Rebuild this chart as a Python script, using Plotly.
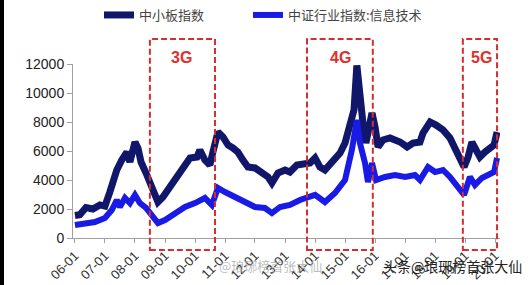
import plotly.graph_objects as go

# ---- data ----
sme_name = "中小板指数"
sme_dates = ["2006-01-01", "2006-03-01", "2006-05-15", "2006-08-07", "2006-11-01", "2007-01-01",
             "2007-03-01", "2007-05-25", "2007-07-25", "2007-09-25", "2007-11-01", "2008-01-01",
             "2008-02-07", "2008-03-15", "2008-05-15", "2008-07-01", "2008-09-01", "2008-10-07",
             "2008-12-07", "2009-03-01", "2009-05-01", "2009-08-07", "2009-11-01", "2010-01-25",
             "2010-03-01", "2010-05-01", "2010-07-01", "2010-08-07", "2010-10-07", "2010-12-07",
             "2011-02-07", "2011-04-07", "2011-06-07", "2011-08-07", "2011-10-07", "2012-01-01",
             "2012-03-25", "2012-06-07", "2012-07-25", "2012-10-07", "2013-01-01", "2013-03-01",
             "2013-05-25", "2013-09-01", "2013-11-01", "2014-01-01", "2014-03-01", "2014-05-01",
             "2014-07-01", "2014-09-01", "2014-11-01", "2015-01-01", "2015-03-01", "2015-04-20",
             "2015-05-25", "2015-07-01", "2015-08-07", "2015-09-12", "2015-10-20", "2015-11-25",
             "2016-01-01", "2016-02-07", "2016-04-07", "2016-07-01", "2016-11-01", "2017-01-25",
             "2017-04-07", "2017-07-01", "2017-08-07", "2017-11-01", "2018-01-13", "2018-04-07",
             "2018-07-01", "2018-09-01", "2018-11-01", "2018-12-20", "2019-02-07", "2019-03-25",
             "2019-05-15", "2019-07-01", "2019-09-01", "2019-11-01", "2019-12-20", "2020-01-25"]
sme_values = [1550, 1600, 2100, 2000, 2280, 2200,
              3170, 4690, 5380, 5930, 5240, 6620,
              6200, 5240, 4480, 3860, 3100, 2480,
              2830, 3520, 4000, 4690, 5520, 5590,
              6070, 5380, 5030, 5930, 7310, 6970,
              6410, 6210, 5930, 5380, 4900, 4830,
              4550, 4210, 3790, 4480, 4690, 4550,
              5030, 5100, 5170, 5520, 4900, 4690,
              5030, 5380, 5860, 6550, 7930, 8830,
              11900, 9310, 7930, 6550, 7450, 8620,
              7660, 6280, 6760, 6900, 6620, 6280,
              6550, 6620, 7240, 8000, 7790, 7450,
              6900, 6210, 5520, 4900, 5590, 6620,
              6070, 5590, 5930, 6210, 6410, 7310]

it_name = "中证行业指数:信息技术"
it_dates = ["2006-01-01", "2006-05-01", "2006-09-01", "2007-01-01", "2007-03-25", "2007-05-25",
            "2007-07-01", "2007-09-01", "2007-11-01", "2008-01-01", "2008-03-01", "2008-05-15",
            "2008-07-25", "2008-10-07", "2009-01-01", "2009-03-25", "2009-09-01", "2010-01-01",
            "2010-05-01", "2010-07-25", "2010-10-07", "2011-01-01", "2011-05-01", "2011-09-01",
            "2012-01-01", "2012-05-01", "2012-07-25", "2012-11-01", "2013-03-01", "2013-07-01",
            "2013-10-15", "2014-01-01", "2014-05-01", "2014-09-01", "2015-01-01", "2015-03-25",
            "2015-05-25", "2015-07-01", "2015-09-01", "2015-10-07", "2015-11-25", "2016-01-13",
            "2016-05-01", "2016-09-01", "2017-01-01", "2017-05-01", "2017-07-01", "2017-10-07",
            "2018-01-01", "2018-04-07", "2018-07-01", "2018-10-07", "2018-12-20", "2019-03-01",
            "2019-05-01", "2019-07-25", "2019-11-01", "2019-12-20", "2020-01-25"]
it_values = [900, 1030, 1100, 1380, 1930, 2620,
             2140, 2760, 2410, 2970, 2410, 2070,
             1590, 1030, 1240, 1590, 2140, 2410,
             2760, 2280, 3450, 3170, 2830, 2410,
             2140, 2070, 1720, 2140, 2280, 2620,
             2830, 2970, 2480, 3100, 4000, 6070,
             8140, 6550, 5170, 3860, 5170, 4000,
             4210, 4340, 4210, 4340, 4000, 4900,
             4550, 4690, 4210, 3520, 2970, 4210,
             3660, 4140, 4480, 4550, 5520]

# periods marked on the chart
period_labels = ["3G", "4G", "5G"]
period_starts = ["2008-07-01", "2013-09-25", "2018-12-05"]
period_ends = ["2010-09-01", "2015-12-05", "2020-01-25"]
period_label_x = ["2009-07-25", "2014-11-01", "2019-07-25"]

y_ticks = [0, 2000, 4000, 6000, 8000, 10000, 12000]

# ---- figure ----
W, H = 531, 285
ML, MR, MT, MB = 73, 31, 64, 47
PW, PH = W - ML - MR, H - MT - MB


def px_to_paper_x(px):
    return (px - ML) / PW


def px_to_paper_y(py):
    return (H - MB - py) / PH


fig = go.Figure()
fig.add_trace(go.Scatter(x=sme_dates, y=sme_values, name=sme_name, mode="lines",
                         line=dict(color="#10176b", width=7), legend="legend"))
fig.add_trace(go.Scatter(x=it_dates, y=it_values, name=it_name, mode="lines",
                         line=dict(color="#1a1ae6", width=6), legend="legend2"))

red = "#d42f2f"
shapes = []
for s, e in zip(period_starts, period_ends):
    shapes.append(dict(type="rect", xref="x", yref="paper", x0=s, x1=e,
                       y0=px_to_paper_y(250), y1=px_to_paper_y(39),
                       line=dict(color=red, width=2, dash="6px,3px"),
                       fillcolor="rgba(0,0,0,0)", layer="above"))
# black strip at the left edge of the picture
shapes.append(dict(type="rect", xref="paper", yref="paper",
                   x0=px_to_paper_x(0), x1=px_to_paper_x(4),
                   y0=px_to_paper_y(H), y1=px_to_paper_y(0),
                   line=dict(width=0), fillcolor="black", layer="above"))

annotations = []
for lab, lx in zip(period_labels, period_label_x):
    annotations.append(dict(text="<b>%s</b>" % lab, x=lx, xref="x", y=px_to_paper_y(58), yref="paper",
                            xanchor="center", yanchor="middle",
                            showarrow=False, font=dict(family="Arial", size=16, color="#e0302a")))
# watermarks
annotations.append(dict(text="@琅琊榜首张大仙", x=px_to_paper_x(270), y=px_to_paper_y(265),
                        xref="paper", yref="paper", xanchor="center", yanchor="middle", showarrow=False,
                        font=dict(family="Noto Sans CJK SC", size=13, color="rgba(160,160,160,0.7)")))
annotations.append(dict(text="头条@琅琊榜首张大仙", x=px_to_paper_x(452), y=px_to_paper_y(266),
                        xref="paper", yref="paper", xanchor="center", yanchor="middle", showarrow=False,
                        font=dict(family="Noto Sans CJK SC", size=14, color="#222222")))

legend_font = dict(family="Noto Sans CJK SC", size=13, color="#444444")
fig.update_layout(
    width=W, height=H,
    margin=dict(l=ML, r=MR, t=MT, b=MB, pad=0, autoexpand=False),
    paper_bgcolor="white", plot_bgcolor="white",
    font=dict(family="Arial, Noto Sans CJK SC", color="#333333"),
    showlegend=True,
    legend=dict(orientation="h", x=px_to_paper_x(99), xanchor="left",
                y=px_to_paper_y(15), yanchor="middle", font=legend_font,
                bgcolor="rgba(0,0,0,0)"),
    legend2=dict(orientation="h", x=px_to_paper_x(248), xanchor="left",
                 y=px_to_paper_y(15), yanchor="middle", font=legend_font,
                 bgcolor="rgba(0,0,0,0)"),
    shapes=shapes,
    annotations=annotations,
    xaxis=dict(type="date", range=["2005-12-08", "2020-03-01"],
               tick0="2006-01-01", dtick="M12", tickformat="%y-%m",
               tickangle=-45, ticks="outside", ticklen=4, tickcolor="#a0a0a0",
               showline=True, linecolor="#a0a0a0", linewidth=1,
               showgrid=False, zeroline=False,
               tickfont=dict(family="Arial", size=13, color="#333333")),
    yaxis=dict(range=[0, 12000], tickvals=y_ticks, tickformat="d", ticks="outside", ticklen=5,
               tickcolor="#a0a0a0", showline=True, linecolor="#a0a0a0", linewidth=1,
               showgrid=False, zeroline=False,
               tickfont=dict(family="Arial", size=14, color="#222222")),
)

fig.write_html("out.html")
